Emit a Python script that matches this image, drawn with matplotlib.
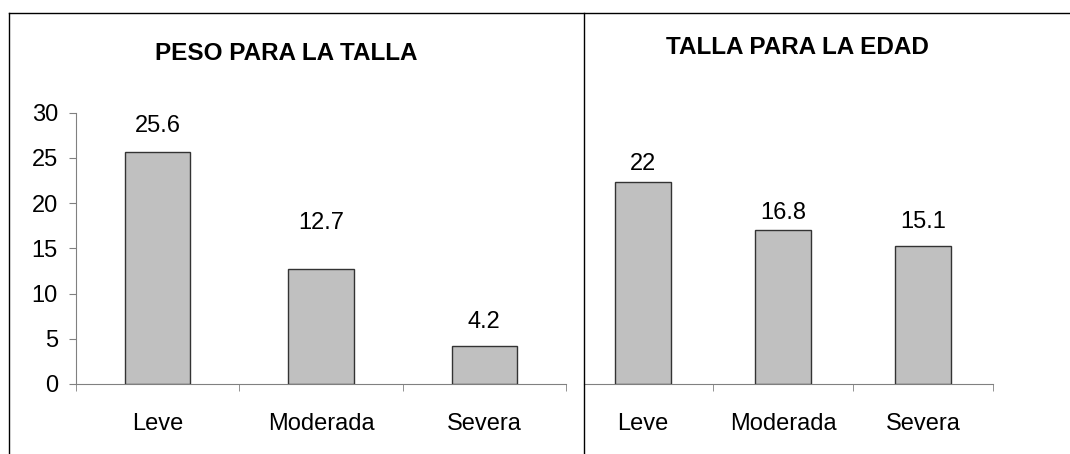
import numpy as np
import matplotlib
matplotlib.use("Agg")
import matplotlib.pyplot as plt
from matplotlib.lines import Line2D

plt.rcParams['font.family'] = ['Liberation Sans', 'DejaVu Sans']

# data
categorias = ['Leve', 'Moderada', 'Severa']
peso_talla = [25.6, 12.7, 4.2]
talla_edad = [22, 16.8, 15.1]
titulo_izq = 'PESO PARA LA TALLA'
titulo_der = 'TALLA PARA LA EDAD'
yticks = [0, 5, 10, 15, 20, 25, 30]

# label offsets above each bar (points), as the original places them
off_izq = [19, 33, 17]
off_der = [13, 12, 17]

W, H = 1070, 454
fig = plt.figure(figsize=(W / 100, H / 100), dpi=100)

BAR = '#c0c0c0'
EDGE = '#333333'
AX = '#808080'
FS = 17


def px(x0, y0, x1, y1):
    # pixel box (top-left origin) -> figure fraction rect
    return [x0 / W, 1 - y1 / H, (x1 - x0) / W, (y1 - y0) / H]


def panel(ax, vals, offs):
    x = np.arange(len(vals))
    bars = ax.bar(x, vals, width=0.4, color=BAR, edgecolor=EDGE, linewidth=1, zorder=3)
    for b, v, o in zip(bars, vals, offs):
        ax.annotate(f'{v:g}', (b.get_x() + b.get_width() / 2, v), xytext=(0, o),
                    textcoords='offset points', ha='center', va='center', fontsize=FS)
    ax.set_ylim(0, 30)
    ax.set_xticks(x)
    ax.set_xticklabels(categorias, fontsize=FS)
    ax.tick_params(axis='x', which='major', length=0, pad=21)
    ax.set_xticks(np.arange(-0.5, len(vals)), minor=True)
    ax.tick_params(axis='x', which='minor', length=5, color=AX, direction='out')
    for s in ['top', 'right']:
        ax.spines[s].set_visible(False)
    ax.spines['bottom'].set_color(AX)
    ax.spines['left'].set_color(AX)


# left panel
ax1 = fig.add_axes(px(76, 112.5, 566, 384))
panel(ax1, peso_talla, off_izq)
ax1.set_xlim(-0.5, 2.5)
ax1.set_yticks(yticks)
ax1.tick_params(axis='y', length=5, color=AX, labelsize=FS, pad=8)

# right panel (its left edge sits under the divider)
ax2 = fig.add_axes(px(584, 109, 993, 384))
panel(ax2, talla_edad, off_der)
ax2.set_xlim(-0.5 + 11 / 140, 2.5)
ax2.spines['left'].set_visible(False)
ax2.set_yticks([])

fig.text(286 / W, 1 - 53 / H, titulo_izq, ha='center', va='center',
         fontsize=17.5, fontweight='bold')
fig.text(797 / W, 1 - 48 / H, titulo_der, ha='center', va='center',
         fontsize=17.5, fontweight='bold')

# outer frame lines
ytop = 1 - 12.5 / H
fig.add_artist(Line2D([8.5 / W, 1], [ytop, ytop], color='black', lw=1))
fig.add_artist(Line2D([8.5 / W, 8.5 / W], [0, ytop], color='black', lw=1))
fig.add_artist(Line2D([583.5 / W, 583.5 / W], [0, ytop], color='black', lw=1))

fig.savefig('out.png', dpi=100)
